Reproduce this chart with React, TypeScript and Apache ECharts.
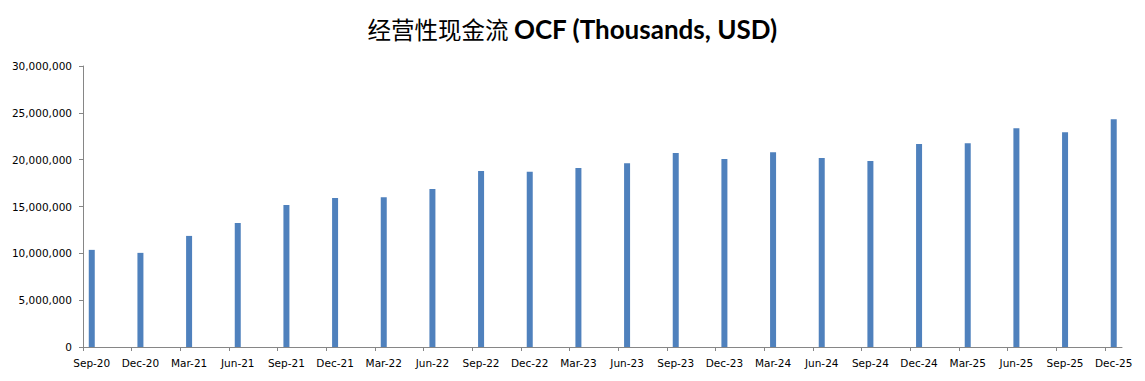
import React, { useEffect, useRef } from "react";
import * as echarts from "echarts";

const categories = [
  "Sep-20", "Dec-20", "Mar-21", "Jun-21", "Sep-21", "Dec-21", "Mar-22", "Jun-22",
  "Sep-22", "Dec-22", "Mar-23", "Jun-23", "Sep-23", "Dec-23", "Mar-24", "Jun-24",
  "Sep-24", "Dec-24", "Mar-25", "Jun-25", "Sep-25", "Dec-25",
];
const ocfValues = [
  10370000, 10050000, 11860000, 13240000, 15160000, 15900000, 16000000, 16860000,
  18800000, 18700000, 19100000, 19630000, 20700000, 20060000, 20800000, 20170000,
  19850000, 21660000, 21760000, 23360000, 22940000, 24320000,
];
const yTicks = [0, 5000000, 10000000, 15000000, 20000000, 25000000, 30000000];

const TITLE_CN = "经营性现金流";
const TITLE_EN = "OCF (Thousands, USD)";

export default function App() {
  const ref = useRef<HTMLDivElement>(null);
  useEffect(() => {
    if (!ref.current) return;
    const chart = echarts.init(ref.current, null, { renderer: "svg" });
    const idx = categories.map((_, i) => i);
    const labelFont = "'DejaVu Sans', Verdana, sans-serif";
    chart.setOption({
      animation: false,
      backgroundColor: "#ffffff",
      title: {
        text: `{cn|${TITLE_CN}} {en|${TITLE_EN}}`,
        left: "center",
        top: 11,
        textStyle: {
          rich: {
            cn: {
              fontFamily: "'Noto Sans CJK SC'",
              fontSize: 23.5,
              fontWeight: "normal",
              color: "#000",
            },
            en: {
              fontFamily: "Lato, 'Open Sans', sans-serif",
              fontSize: 26,
              fontWeight: "bold",
              color: "#000",
            },
          },
        },
      },
      grid: { left: 83, right: 23, top: 66, bottom: 34, containLabel: false },
      xAxis: {
        type: "value",
        min: -0.18,
        max: 21.17,
        splitLine: { show: false },
        axisLine: { show: true, onZero: false, lineStyle: { color: "#868686", width: 1 } },
        axisTick: {
          show: true,
          length: 4,
          lineStyle: { color: "#868686" },
          customValues: idx.map((i) => i - 0.18),
        },
        axisLabel: {
          show: true,
          customValues: idx,
          margin: 10,
          color: "#000",
          fontSize: 10.5,
          fontFamily: labelFont,
          formatter: (v: number) => categories[Math.round(v)] ?? "",
        },
      },
      yAxis: {
        type: "value",
        min: yTicks[0],
        max: yTicks[yTicks.length - 1],
        interval: yTicks[1] - yTicks[0],
        splitLine: { show: false },
        axisLine: { show: true, onZero: false, lineStyle: { color: "#868686", width: 1 } },
        axisTick: { show: true, length: 4, lineStyle: { color: "#868686" } },
        axisLabel: {
          margin: 11,
          color: "#000",
          fontSize: 10.5,
          fontFamily: labelFont,
          formatter: (v: number) => v.toLocaleString("en-US"),
        },
      },
      series: [
        {
          type: "bar",
          data: ocfValues.map((v, i) => [i, v]),
          barWidth: 6,
          itemStyle: { color: "#4F81BD" },
        },
      ],
    });
    return () => chart.dispose();
  }, []);
  return <div ref={ref} style={{ width: 1145, height: 381, marginLeft: -8, marginTop: -8 }} />;
}
